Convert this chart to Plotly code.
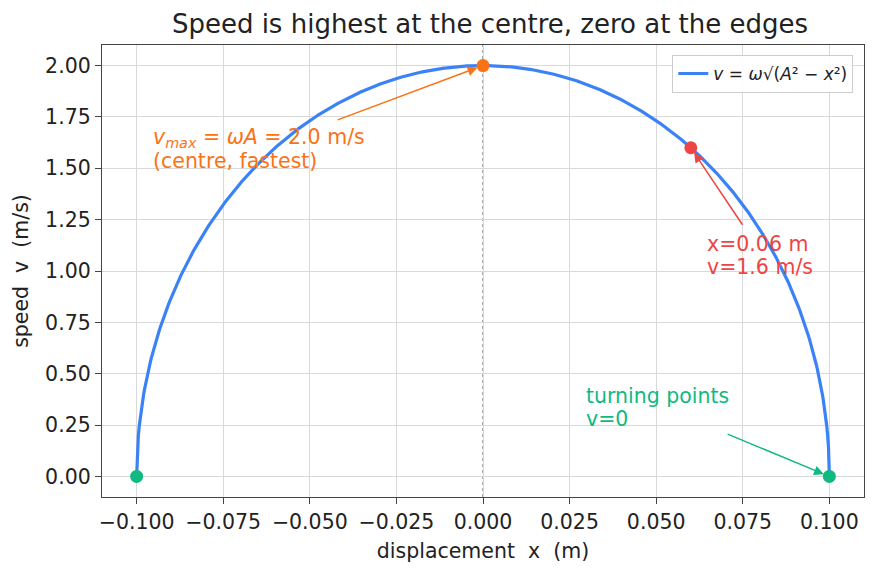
import numpy as np
import plotly.graph_objects as go

# Parameters given in the chart's legend / annotation
A = 0.1          # amplitude (m)
OMEGA = 20.0     # angular frequency (rad/s)  -> vmax = 2.0 m/s

x_curve = np.linspace(-A, A, 801)
v_curve = OMEGA * np.sqrt(np.clip(A**2 - x_curve**2, 0, None))

centre_pt = (0.0, 2.0)
sample_pt = (0.06, 1.6)
turn_x = [-0.1, 0.1]
turn_v = [0.0, 0.0]

x_ticks = [-0.1, -0.075, -0.05, -0.025, 0.0, 0.025, 0.05, 0.075, 0.1]
x_ticklabels = ["−0.100", "−0.075", "−0.050", "−0.025", "0.000", "0.025", "0.050", "0.075", "0.100"]
y_ticks = [0, 0.25, 0.5, 0.75, 1.0, 1.25, 1.5, 1.75, 2.0]
y_ticklabels = ["0.00", "0.25", "0.50", "0.75", "1.00", "1.25", "1.50", "1.75", "2.00"]

BLUE = "#3b82f6"
ORANGE = "#f97316"
RED = "#ef4444"
GREEN = "#10b981"
FONT = "DejaVu Sans"
TXT = 20.5

fig = go.Figure()

fig.add_trace(go.Scatter(
    x=x_curve, y=v_curve, mode="lines",
    line=dict(color=BLUE, width=3.2),
    name="<i>v</i> = <i>ω</i>√(<i>A</i>² − <i>x</i>²)",
))

fig.add_trace(go.Scatter(x=[centre_pt[0]], y=[centre_pt[1]], mode="markers",
                         marker=dict(color=ORANGE, size=13), showlegend=False))
fig.add_trace(go.Scatter(x=[sample_pt[0]], y=[sample_pt[1]], mode="markers",
                         marker=dict(color=RED, size=13), showlegend=False))
fig.add_trace(go.Scatter(x=turn_x, y=turn_v, mode="markers",
                         marker=dict(color=GREEN, size=13), showlegend=False))

# vertical dotted line at x = 0
fig.add_shape(type="line", x0=0, x1=0, y0=0, y1=1, xref="x", yref="paper",
              line=dict(color="#555555", width=1, dash="dot"), layer="below")

def arrow(x, y, ax, ay, color):
    fig.add_annotation(x=x, y=y, ax=ax, ay=ay, xref="x", yref="y", axref="x", ayref="y",
                       text="", showarrow=True, arrowhead=2, arrowsize=1.3, arrowwidth=1.5,
                       arrowcolor=color, standoff=6)

arrow(0.0, 2.0, -0.0424, 1.733, ORANGE)
arrow(0.06, 1.6, 0.0752, 1.218, RED)
arrow(0.1, 0.0, 0.0702, 0.209, GREEN)

def label(x, y, text, color):
    fig.add_annotation(x=x, y=y, xref="x", yref="y", xanchor="left", yanchor="middle",
                       align="left", showarrow=False, text=text, borderpad=0,
                       font=dict(color=color, size=TXT, family=FONT))

label(-0.0955, 1.648, "<i>v<sub>max</sub></i> = <i>ωA</i> = 2.0 m/s", ORANGE)
label(-0.0955, 1.536, "(centre, fastest)", ORANGE)
label(0.0645, 1.131, "x=0.06 m", RED)
label(0.0645, 1.019, "v=1.6 m/s", RED)
label(0.0295, 0.394, "turning points", GREEN)
label(0.0295, 0.282, "v=0", GREEN)

axis_common = dict(
    showgrid=True, gridcolor="#d9d9d9", gridwidth=1,
    showline=True, linecolor="#444444", linewidth=1.3, mirror=True,
    ticks="outside", ticklen=6, tickcolor="#444444",
    tickfont=dict(size=TXT, family=FONT, color="#222222"),
    zeroline=False, automargin=False,
)

fig.update_layout(
    width=876, height=573,
    margin=dict(l=102, r=12, t=45, b=76),
    paper_bgcolor="white", plot_bgcolor="white",
    font=dict(family=FONT, color="#222222"),
    title=dict(text="Speed is highest at the centre, zero at the edges",
               x=490 / 876, xanchor="center", y=1 - 24 / 573, yanchor="middle",
               font=dict(size=26, family=FONT, color="#222222")),
    xaxis=dict(range=[-0.11, 0.11], tickvals=x_ticks, ticktext=x_ticklabels,
               title=dict(text="displacement  x  (m)", font=dict(size=TXT, family=FONT), standoff=10),
               **axis_common),
    yaxis=dict(range=[-0.1, 2.1], tickvals=y_ticks, ticktext=y_ticklabels,
               title=dict(text="speed  v  (m/s)", font=dict(size=TXT, family=FONT), standoff=10),
               **axis_common),
    legend=dict(x=0.986, y=0.978, xanchor="right", yanchor="top",
                bgcolor="rgba(255,255,255,0.9)", bordercolor="#cccccc", borderwidth=1,
                font=dict(size=17, family=FONT)),
)

fig.write_html("out.html")
